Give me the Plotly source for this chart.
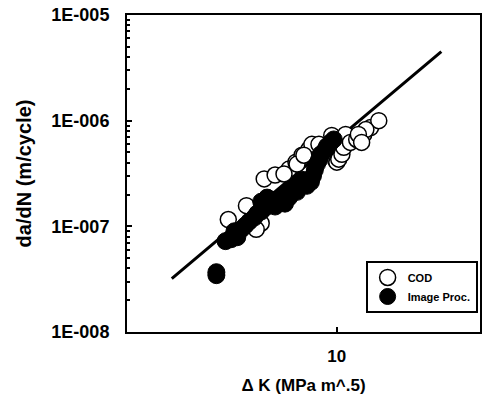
import plotly.graph_objects as go

# Data (ΔK in MPa m^0.5, da/dN in m/cycle)
cod_dk = [4.35, 5.00, 5.73, 6.23, 5.60, 5.39, 6.93, 7.31, 7.66, 8.08, 8.26, 6.67,
          7.37, 7.77, 8.72, 9.62, 10.3, 9.92, 10.7, 10.0, 10.15, 10.4, 10.55, 11.1,
          11.65, 12.3, 12.96, 13.8, 12.5, 11.8, 12.1]
cod_dadn = [1.16e-7, 1.57e-7, 2.81e-7, 3.06e-7, 1.07e-7, 9.37e-8, 3.48e-7, 4.05e-7,
            4.71e-7, 5.36e-7, 5.97e-7, 3.13e-7, 3.88e-7, 4.71e-7, 5.97e-7, 7.24e-7,
            5.02e-7, 4.23e-7, 7.40e-7, 4.05e-7, 4.32e-7, 4.81e-7, 5.59e-7, 6.23e-7,
            6.64e-7, 7.40e-7, 8.60e-7, 1.0e-6, 8.24e-7, 7.40e-7, 6.23e-7]

img_dk = [3.97, 3.97, 4.26, 4.45, 4.66, 4.56, 4.81, 4.96, 5.11, 5.31, 5.43, 5.60,
          5.77, 5.95, 6.04, 6.33, 6.52, 6.72, 6.93, 6.83, 7.15, 7.37, 7.48, 7.71,
          7.95, 8.20, 8.33, 8.45, 8.59, 8.72, 8.85, 9.13, 9.27, 9.55, 9.77, 6.23,
          5.60, 5.86]
img_dadn = [3.68e-8, 3.45e-8, 7.24e-8, 7.56e-8, 7.89e-8, 8.98e-8, 9.37e-8, 1.02e-7,
            1.11e-7, 1.21e-7, 1.32e-7, 1.38e-7, 1.50e-7, 1.61e-7, 1.79e-7, 1.71e-7,
            1.87e-7, 1.64e-7, 1.87e-7, 2.12e-7, 2.31e-7, 2.12e-7, 2.52e-7, 2.75e-7,
            2.42e-7, 2.63e-7, 3.00e-7, 3.41e-7, 3.88e-7, 4.23e-7, 4.81e-7, 5.24e-7,
            5.71e-7, 6.23e-7, 6.64e-7, 1.54e-7, 1.71e-7, 1.87e-7]

fit_dk = [2.82, 22.3]
fit_dadn = [3.20e-8, 4.51e-6]

y_ticks = [1e-8, 1e-7, 1e-6, 1e-5]
y_ticktext = ["1E-008", "1E-007", "1E-006", "1E-005"]
x_ticks = [10]
x_ticktext = ["10"]

FONT = "Liberation Sans"

fig = go.Figure()
fig.add_trace(go.Scatter(x=fit_dk, y=fit_dadn, mode="lines",
                         line=dict(color="black", width=3), showlegend=False))
fig.add_trace(go.Scatter(x=cod_dk, y=cod_dadn, mode="markers", name="COD",
                         marker=dict(size=16, color="white",
                                     line=dict(color="black", width=1.5))))
fig.add_trace(go.Scatter(x=img_dk, y=img_dadn, mode="markers", name="Image Proc.",
                         marker=dict(size=17, color="black",
                                     line=dict(color="black", width=1))))

fig.update_layout(
    width=487, height=397,
    margin=dict(l=127, r=5, t=11, b=65),
    paper_bgcolor="white", plot_bgcolor="white",
    font=dict(family=FONT, color="black"),
    legend=dict(x=0.676, y=0.224, xanchor="left", yanchor="top",
                bgcolor="white", bordercolor="black", borderwidth=2,
                font=dict(size=11, family=FONT, weight="bold"),
                itemwidth=30, tracegroupgap=0),
)
fig.update_xaxes(type="log", range=[0.30103, 1.47712],
                 tickmode="array", tickvals=x_ticks, ticktext=x_ticktext,
                 ticks="inside", ticklen=5, tickcolor="black", tickwidth=1.5,
                 ticklabelstandoff=8,
                 showgrid=False, zeroline=False,
                 showline=True, linecolor="black", linewidth=2, mirror=True,
                 tickfont=dict(size=17, family=FONT, weight="bold"),
                 title=dict(text="Δ K (MPa m^.5)",
                            font=dict(size=17, family=FONT, weight="bold"),
                            standoff=14))
fig.update_yaxes(type="log", range=[-8, -5],
                 tickmode="array", tickvals=y_ticks, ticktext=y_ticktext,
                 ticks="inside", ticklen=5, tickcolor="black", tickwidth=1.5,
                 ticklabelstandoff=12,
                 minor=dict(ticks="inside", ticklen=3, tickcolor="black", dtick="D1"),
                 showgrid=False, zeroline=False,
                 showline=True, linecolor="black", linewidth=2, mirror=True,
                 tickfont=dict(size=18, family=FONT, weight="bold"),
                 title=dict(text="da/dN (m/cycle)",
                            font=dict(size=20, family=FONT, weight="bold"),
                            standoff=14))

fig.write_html("out.html")
